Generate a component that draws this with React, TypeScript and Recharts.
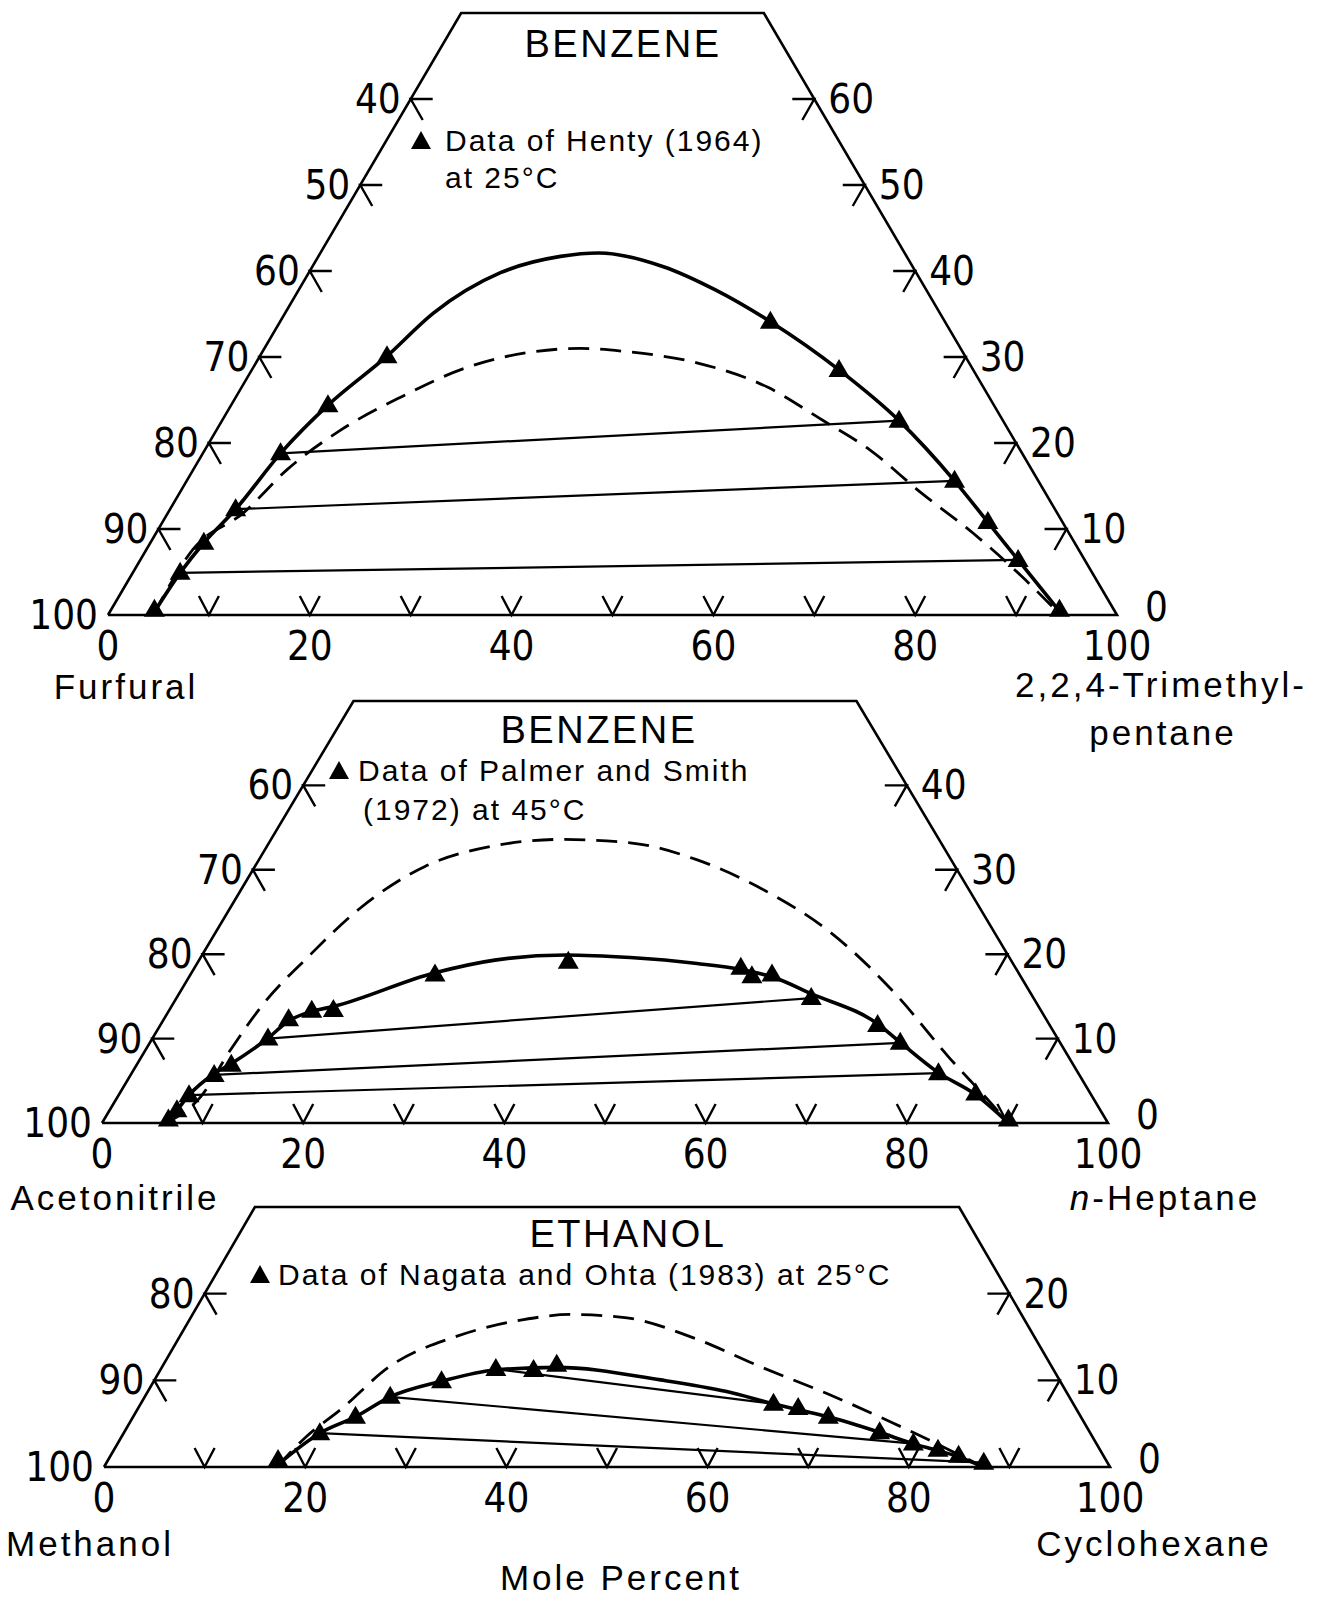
import React from 'react'
import { ComposedChart, Line, Scatter, XAxis, YAxis } from 'recharts'

// a composition is [top component %, right-corner component %]; the left one is the rest
type Comp = [number, number]

// ---- furfural / benzene / 2,2,4-trimethylpentane, Henty (1964) at 25°C
const hentyPoints: Comp[] = [
  [0.6, 4.3], [4.9, 4.7], [8.4, 5.3], [12.3, 6.5], [18.8, 7.7], [24.4, 9.6], [30.1, 12.6],
  [34.1, 48.6], [28.5, 58.2], [22.6, 67.1], [15.6, 76.1], [10.8, 81.8], [6.4, 87.0], [0.6, 94.0],
]
const hentyBinodal: Comp[] = [
  [0, 4.4], [4.9, 4.7], [8.4, 5.3], [12.3, 6.5], [18.8, 7.7], [24.4, 9.6], [30.1, 12.6],
  [35.1, 14.7], [39.8, 19.0], [41.7, 24.0], [42.1, 27.6], [40.5, 34.8], [37.8, 41.3],
  [34.1, 48.6], [28.5, 58.2], [22.6, 67.1], [15.6, 76.1], [10.8, 81.8], [6.4, 87.0], [0, 94.6],
]
const hentyPredicted: Comp[] = [
  [0, 4.5], [7.6, 4.6], [11.9, 7.5], [16.9, 9.3], [21.5, 12.3], [25.3, 16.3], [28.8, 21.2],
  [30.6, 26.8], [31.0, 31.3], [30.6, 36.3], [29.3, 43.8], [26.5, 52.1], [22.7, 59.4],
  [19.2, 65.9], [14.2, 73.5], [9.5, 81.0], [4.5, 88.3], [0, 94.4],
]
const hentyTies: [Comp, Comp][] = [
  [[18.8, 7.7], [22.6, 67.1]],
  [[12.3, 6.5], [15.6, 76.1]],
  [[4.9, 4.7], [6.4, 87.0]],
]

// ---- acetonitrile / benzene / n-heptane, Palmer and Smith (1972) at 45°C
const palmerPoints: Comp[] = [
  [0.4, 6.4], [1.5, 6.7], [3.3, 7.0], [5.7, 8.3], [6.9, 9.4], [10.0, 11.5], [12.3, 12.4],
  [13.3, 14.2], [13.4, 16.3], [17.6, 24.3], [19.1, 36.8], [18.4, 54.3], [17.4, 55.9],
  [17.6, 57.8], [14.8, 63.1], [11.6, 71.3], [9.5, 74.6], [5.9, 80.2], [3.5, 85.1], [0.4, 89.9],
]
const palmerBinodal: Comp[] = [
  [0, 6.3], [1.6, 6.7], [3.3, 7.0], [5.8, 8.2], [7.0, 9.3], [10.1, 11.5], [12.1, 12.5],
  [13.2, 14.2], [13.8, 16.1], [17.8, 24.2], [19.3, 29.4], [19.9, 36.1], [19.6, 42.7],
  [18.9, 49.7], [18.2, 54.4], [17.3, 58.0], [15.3, 62.9], [11.7, 71.3], [9.6, 74.5],
  [6.0, 80.1], [3.4, 85.1], [0, 90.1],
]
const palmerPredicted: Comp[] = [
  [0, 6.4], [3.1, 8.25], [8.7, 8.45], [14.2, 9.0], [19.7, 10.65], [25.3, 12.85], [30.4, 16.9],
  [32.8, 22.4], [33.6, 28.9], [33.2, 35.9], [31.2, 43.5], [27.6, 52.0], [22.5, 61.25],
  [15.0, 71.6], [7.9, 80.15], [2.7, 86.75], [0, 90.1],
]
const palmerTies: [Comp, Comp][] = [
  [[10.0, 11.5], [14.8, 63.1]],
  [[5.7, 8.3], [9.5, 74.6]],
  [[3.3, 7.0], [5.9, 80.2]],
]

// ---- methanol / ethanol / cyclohexane, Nagata and Ohta (1983) at 25°C
const nagataPoints: Comp[] = [
  [0.8, 16.9], [3.9, 19.5], [5.8, 22.1], [8.1, 24.4], [9.9, 28.6], [11.3, 33.3], [11.2, 37.1],
  [11.8, 39.1], [7.3, 62.9], [6.8, 65.6], [5.8, 69.1], [4.0, 75.1], [2.7, 79.1], [2.0, 81.9],
  [1.3, 84.3], [0.5, 87.2],
]
const nagataBinodal: Comp[] = [
  [0, 17.0], [3.9, 19.5], [5.8, 22.1], [8.1, 24.4], [9.9, 28.6], [11.2, 33.3], [11.5, 39.25],
  [10.05, 50.3], [8.7, 57.55], [7.3, 62.85], [6.6, 65.7], [5.8, 69.1], [4.0, 75.1],
  [2.7, 79.05], [1.9, 81.95], [1.2, 84.3], [0, 87.4],
]
const nagataPredicted: Comp[] = [
  [0, 17.2], [3.5, 18.35], [6.6, 20.2], [11.6, 22.6], [15.1, 27.55], [17.0, 33.2], [17.6, 37.5],
  [17.2, 43.4], [14.9, 51.15], [11.6, 59.4], [8.5, 67.55], [5.05, 75.95], [2.35, 82.2], [0, 87.4],
]
const nagataTies: [Comp, Comp][] = [
  [[11.3, 33.3], [7.3, 62.9]],
  [[8.1, 24.4], [2.7, 79.1]],
  [[3.9, 19.5], [0.5, 87.2]],
]

// ---- axis ticks
const baseTicks = [10, 20, 30, 40, 50, 60, 70, 80, 90]
const baseLabels = [0, 20, 40, 60, 80, 100]
const hentyEdgeTicks = [10, 20, 30, 40, 50, 60]
const palmerEdgeTicks = [10, 20, 30, 40]
const nagataEdgeTicks = [10, 20]

const DIGITS = "'Liberation Sans Narrow', 'DejaVu Sans Condensed', 'Liberation Sans', sans-serif"
const LETTERS = "'Liberation Sans', Arial, sans-serif"

const project = ([top, right]: Comp) => ({ x: right + top / 2, y: top })

const Triangle = (p: any) => (
  <polygon
    points={`${p.cx},${p.cy - 11} ${p.cx - 10.5},${p.cy + 7} ${p.cx + 10.5},${p.cy + 7}`}
    fill="#000"
  />
)

const tickPath = (kind: string, cx: number, cy: number) => {
  if (kind === 'base') return `M${cx - 10},${cy - 19} L${cx},${cy} L${cx + 10},${cy - 19}`
  if (kind === 'left') return `M${cx + 22},${cy} L${cx},${cy} L${cx + 12},${cy + 21}`
  return `M${cx - 22},${cy} L${cx},${cy} L${cx - 12},${cy + 21}`
}

const Tick = (p: any) => (
  <path d={tickPath(p.payload.kind, p.cx, p.cy)} stroke="#000" strokeWidth={2.4} fill="none" />
)

const TickLabel = (p: any) => {
  const { kind, label, corner } = p.payload
  let dx = 0
  let dy = 0
  let anchor: 'start' | 'middle' | 'end' = 'middle'
  if (kind === 'base') dy = 31
  if (kind === 'left') { dx = -10; anchor = 'end' }
  if (kind === 'right') { dx = corner ? 28 : 14; dy = corner ? -8 : 0; anchor = 'start' }
  return (
    <text
      x={p.cx + dx}
      y={p.cy + dy}
      textAnchor={anchor}
      dominantBaseline="central"
      fontFamily={DIGITS}
      fontSize={40}
      fill="#000"
    >
      {label}
    </text>
  )
}

interface PanelProps {
  top: number
  height: number
  x0: number
  x100: number
  baseY: number
  topY: number
  yMax: number
  points: Comp[]
  binodal: Comp[]
  predicted: Comp[]
  ties: [Comp, Comp][]
  edgeTicks: number[]
}

function TernaryPanel(props: PanelProps) {
  const { top, height, x0, x100, baseY, topY, yMax, points, binodal, predicted, ties, edgeTicks } = props
  const outline: Comp[] = [[0, 0], [yMax, 0], [yMax, 100 - yMax], [0, 100], [0, 0]]

  const ticks = [
    ...baseTicks.map(v => ({ x: v, y: 0, kind: 'base' })),
    ...edgeTicks.map(b => ({ ...project([b, 0]), kind: 'left' })),
    ...edgeTicks.map(b => ({ ...project([b, 100 - b]), kind: 'right' })),
  ]
  const edgeLabels = [0, ...edgeTicks]
  const labels = [
    ...baseLabels.map(v => ({ x: v, y: 0, kind: 'base', label: String(v) })),
    ...edgeLabels.map(b => ({ ...project([b, 0]), kind: 'left', label: String(100 - b) })),
    ...edgeLabels.map(b => ({ ...project([b, 100 - b]), kind: 'right', label: String(b), corner: b === 0 })),
  ]

  return (
    <div style={{ position: 'absolute', left: 0, top, width: 1320, height }}>
      <ComposedChart
        width={1320}
        height={height}
        margin={{ left: x0, right: 1320 - x100, top: topY - top, bottom: top + height - baseY }}
      >
        <XAxis type="number" dataKey="x" domain={[0, 100]} hide />
        <YAxis type="number" dataKey="y" domain={[0, yMax]} hide />
        <Line data={outline.map(project)} dataKey="y" type="linear" stroke="#000" strokeWidth={2.6} dot={false} isAnimationActive={false} />
        <Line data={predicted.map(project)} dataKey="y" type="monotone" stroke="#000" strokeWidth={2.8} strokeDasharray="21 11" dot={false} isAnimationActive={false} />
        {ties.map((t, i) => (
          <Line key={i} data={t.map(project)} dataKey="y" type="linear" stroke="#000" strokeWidth={2.2} dot={false} isAnimationActive={false} />
        ))}
        <Line data={binodal.map(project)} dataKey="y" type="monotone" stroke="#000" strokeWidth={3.6} dot={false} isAnimationActive={false} />
        <Scatter data={ticks} dataKey="y" shape={Tick} isAnimationActive={false} />
        <Scatter data={labels} dataKey="y" shape={TickLabel} isAnimationActive={false} />
        <Scatter data={points.map(project)} dataKey="y" shape={Triangle} isAnimationActive={false} />
      </ComposedChart>
    </div>
  )
}

function Txt({ x, y, size = 35, align = 'center', font = LETTERS, spacing = 3, children }: any) {
  return (
    <div
      style={{
        position: 'absolute',
        left: x,
        top: y,
        transform: align === 'center' ? 'translate(-50%, -50%)' : 'translateY(-50%)',
        fontFamily: font,
        fontSize: size,
        letterSpacing: spacing,
        lineHeight: 1,
        whiteSpace: 'nowrap',
        color: '#000',
      }}
    >
      {children}
    </div>
  )
}

function LegendMark({ x, y }: { x: number; y: number }) {
  return (
    <svg style={{ position: 'absolute', left: x - 11, top: y - 10 }} width={22} height={20}>
      <polygon points="11,1 1,19 21,19" fill="#000" />
    </svg>
  )
}

export default function App() {
  return (
    <div style={{ position: 'absolute', left: 0, top: 0, width: 1320, height: 1597, background: '#fff', overflow: 'hidden' }}>
      <TernaryPanel
        top={0} height={680} x0={108} x100={1117} baseY={615} topY={13} yMax={70}
        points={hentyPoints} binodal={hentyBinodal} predicted={hentyPredicted} ties={hentyTies}
        edgeTicks={hentyEdgeTicks}
      />
      <TernaryPanel
        top={680} height={520} x0={102} x100={1108} baseY={1123} topY={701} yMax={50}
        points={palmerPoints} binodal={palmerBinodal} predicted={palmerPredicted} ties={palmerTies}
        edgeTicks={palmerEdgeTicks}
      />
      <TernaryPanel
        top={1180} height={380} x0={104} x100={1110} baseY={1467} topY={1207} yMax={30}
        points={nagataPoints} binodal={nagataBinodal} predicted={nagataPredicted} ties={nagataTies}
        edgeTicks={nagataEdgeTicks}
      />

      <Txt x={623} y={44} size={38} spacing={2.5}>BENZENE</Txt>
      <LegendMark x={421} y={140} />
      <Txt x={445} y={141} size={30} spacing={2} align="left">Data of Henty (1964)</Txt>
      <Txt x={445} y={178} size={30} spacing={2} align="left">at 25°C</Txt>
      <Txt x={126} y={686}>Furfural</Txt>
      <Txt x={1161} y={684}>2,2,4-Trimethyl-</Txt>
      <Txt x={1163} y={732}>pentane</Txt>

      <Txt x={599} y={730} size={38} spacing={2.5}>BENZENE</Txt>
      <LegendMark x={339} y={770} />
      <Txt x={358} y={771} size={30} spacing={2} align="left">Data of Palmer and Smith</Txt>
      <Txt x={363} y={810} size={30} spacing={2} align="left">(1972) at 45°C</Txt>
      <Txt x={115} y={1197}>Acetonitrile</Txt>
      <Txt x={1165} y={1197}><i>n</i>-Heptane</Txt>

      <Txt x={628} y={1234} size={38} spacing={2.5}>ETHANOL</Txt>
      <LegendMark x={260} y={1274} />
      <Txt x={278} y={1275} size={30} spacing={2} align="left">Data of Nagata and Ohta (1983) at 25°C</Txt>
      <Txt x={90} y={1543}>Methanol</Txt>
      <Txt x={1154} y={1543}>Cyclohexane</Txt>
      <Txt x={621} y={1577}>Mole Percent</Txt>
    </div>
  )
}
